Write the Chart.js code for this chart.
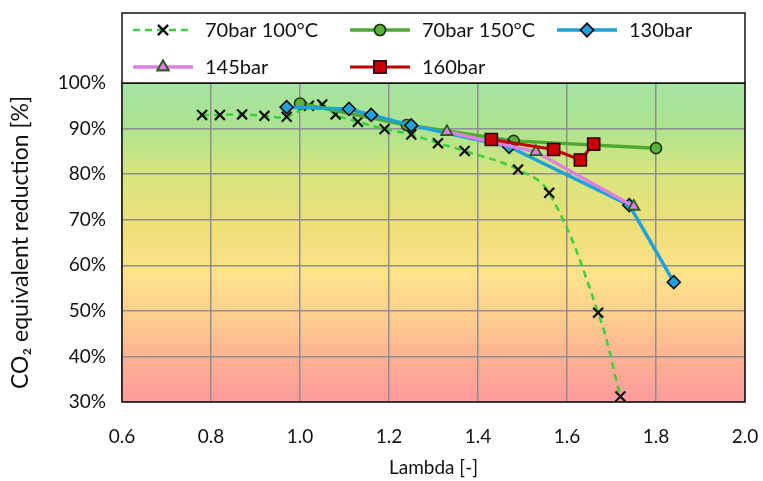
<!DOCTYPE html>
<html>
<head>
<meta charset="utf-8">
<script src="https://cdn.jsdelivr.net/npm/chart.js@4/dist/chart.umd.min.js"></script>
<style>
html,body{margin:0;padding:0;background:#fff;}
#wrap{width:763px;height:481px;}
</style>
</head>
<body>
<div id="wrap"><canvas id="c" width="763" height="481"></canvas></div>
<script>
// ---- data ----
const seriesNames = ['70bar 100°C', '70bar 150°C', '130bar', '145bar', '160bar'];

const lambda70_100 = [0.78, 0.82, 0.87, 0.92, 0.97, 1.02, 1.05, 1.08, 1.13, 1.19, 1.25, 1.31, 1.37, 1.49, 1.56, 1.67, 1.72];
const co2_70_100   = [93.0, 93.0, 93.1, 92.8, 92.6, 95.0, 95.3, 93.1, 91.5, 89.9, 88.7, 86.8, 85.1, 81.0, 75.9, 49.6, 31.2];

const lambda70_150 = [1.00, 1.24, 1.48, 1.80];
const co2_70_150   = [95.5, 90.8, 87.3, 85.7];

const lambda130 = [0.97, 1.11, 1.16, 1.25, 1.47, 1.74, 1.84];
const co2_130   = [94.7, 94.3, 93.0, 90.7, 86.0, 73.2, 56.3];

const lambda145 = [1.33, 1.53, 1.75];
const co2_145   = [89.3, 84.9, 72.9];

const lambda160 = [1.43, 1.57, 1.63, 1.66];
const co2_160   = [87.6, 85.4, 83.1, 86.6];

const xTicks = [0.6, 0.8, 1.0, 1.2, 1.4, 1.6, 1.8, 2.0];
const yTicks = [30, 40, 50, 60, 70, 80, 90, 100];

const FONT = 'Lato, "Open Sans", sans-serif';

function pts(xs, ys){ return xs.map((x,i)=>({x:x, y:ys[i]})); }

const datasets = [
  {label: seriesNames[0], data: pts(lambda70_100, co2_70_100), borderColor:'#3ccf3c', borderWidth:2.5, borderDash:[7,5],
   tension:0.4, pointStyle:'crossRot', pointRadius:7, pointBorderColor:'#111', pointBackgroundColor:'#111', pointBorderWidth:2.2, order:5},
  {label: seriesNames[1], data: pts(lambda70_150, co2_70_150), borderColor:'#4ea72e', borderWidth:3.5,
   pointStyle:'circle', pointRadius:5.5, pointBorderColor:'#1c3512', pointBackgroundColor:'#5cb33c', pointBorderWidth:1.6, order:4},
  {label: seriesNames[2], data: pts(lambda130, co2_130), borderColor:'#1ea2dc', borderWidth:3.5,
   pointStyle:'rectRot', pointRadius:6.5, pointBorderColor:'#111', pointBackgroundColor:'#1ea2dc', pointBorderWidth:1.6, order:3},
  {label: seriesNames[3], data: pts(lambda145, co2_145), borderColor:'#df80de', borderWidth:3.5,
   pointStyle:'triangle', pointRadius:6.5, pointBorderColor:'#2d5a22', pointBackgroundColor:'#df80de', pointBorderWidth:1.8, order:2},
  {label: seriesNames[4], data: pts(lambda160, co2_160), borderColor:'#c00000', borderWidth:3,
   pointStyle:'rect', pointRadius:8.5, pointBorderColor:'#2a0000', pointBackgroundColor:'#cc0000', pointBorderWidth:1.6, order:1}
];

const bgPlugin = {
  id:'bg',
  beforeDraw(chart){
    const {ctx, chartArea:a} = chart;
    ctx.save();
    ctx.fillStyle = '#fff';
    ctx.fillRect(0,0,chart.width,chart.height);
    const g = ctx.createLinearGradient(0,a.top,0,a.bottom);
    g.addColorStop(0.00,'#a5e3a3');
    g.addColorStop(0.14,'#acE38f');
    g.addColorStop(0.28,'#d6e67f');
    g.addColorStop(0.45,'#eede78');
    g.addColorStop(0.60,'#fde28b');
    g.addColorStop(0.75,'#fdcb90');
    g.addColorStop(0.88,'#fdae93');
    g.addColorStop(1.00,'#ff9a9c');
    ctx.fillStyle = g;
    ctx.fillRect(a.left,a.top,a.right-a.left,a.bottom-a.top);
    ctx.restore();
  },
  beforeDatasetsDraw(chart){
    const {ctx, chartArea:a} = chart;
    ctx.save();
    ctx.strokeStyle = '#111';
    ctx.lineWidth = 1.5;
    ctx.strokeRect(a.left,a.top,a.right-a.left,a.bottom-a.top);
    ctx.restore();
  }
};

function drawMarker(ctx, ds, x, y){
  ctx.save();
  ctx.lineWidth = ds.pointBorderWidth;
  ctx.strokeStyle = ds.pointBorderColor;
  ctx.fillStyle = ds.pointBackgroundColor;
  Chart.helpers.drawPoint(ctx, {pointStyle: ds.pointStyle, radius: ds.pointRadius, borderWidth: ds.pointBorderWidth, rotation:0}, x, y);
  ctx.fill();
  if (ds.pointBorderWidth) ctx.stroke();
  ctx.restore();
}

const legendPlugin = {
  id:'boxLegend',
  afterDraw(chart){
    const {ctx, chartArea:a} = chart;
    const top = 13;
    ctx.save();
    ctx.fillStyle = '#fff';
    ctx.fillRect(a.left, top, a.right-a.left, a.top-top);
    ctx.strokeStyle = '#111';
    ctx.lineWidth = 1.5;
    ctx.strokeRect(a.left, top, a.right-a.left, a.top-top);
    const cols = [11, 228, 435];
    const rows = [30, 67];
    const slots = [[0,0],[1,0],[2,0],[0,1],[1,1]];
    ctx.font = '20px ' + FONT;
    ctx.textBaseline = 'middle';
    ctx.textAlign = 'left';
    chart.data.datasets.forEach((ds, i) => {
      const [c, r] = slots[i];
      const x0 = a.left + cols[c], y = rows[r];
      const len = 60;
      ctx.save();
      ctx.strokeStyle = ds.borderColor;
      ctx.lineWidth = ds.borderWidth;
      ctx.setLineDash(ds.borderDash || []);
      ctx.beginPath(); ctx.moveTo(x0, y); ctx.lineTo(x0+len, y); ctx.stroke();
      ctx.restore();
      drawMarker(ctx, ds, x0+len/2, y);
      ctx.fillStyle = '#111';
      ctx.fillText(ds.label, x0 + len + 12, y+1);
    });
    ctx.restore();
  }
};

new Chart(document.getElementById('c'), {
  type:'line',
  data:{datasets},
  options:{
    responsive:false,
    animation:false,
    devicePixelRatio:1,
    layout:{padding:{top:83, right:18, left:0, bottom:0}},
    plugins:{legend:{display:false}, tooltip:{enabled:false}},
    scales:{
      x:{
        type:'linear', min:0.6, max:2.0,
        afterBuildTicks(s){ s.ticks = xTicks.map(v=>({value:v})); },
        afterFit(s){ s.height = 79; s.paddingRight = 0; s.paddingLeft = 0; },
        grid:{color:'#8e8e8e', lineWidth:1.5, drawTicks:false},
        border:{display:false},
        ticks:{padding:23, color:'#111', font:{family:FONT, size:19}, callback:(v)=>Number(v).toFixed(1)},
        title:{display:true, text:'Lambda [-]', color:'#111', font:{family:FONT, size:19}, padding:{top:0,bottom:2}}
      },
      y:{
        min:30, max:100,
        afterBuildTicks(s){ s.ticks = yTicks.map(v=>({value:v})); },
        afterFit(s){ s.width = 122; },
        grid:{color:'#8e8e8e', lineWidth:1.5, drawTicks:false},
        border:{display:false},
        ticks:{padding:16, color:'#111', font:{family:FONT, size:19}, callback:(v)=>v+'%'},
        title:{display:true, text:'CO₂ equivalent reduction [%]', color:'#111', font:{family:FONT, size:23}, padding:{top:7,bottom:0}}
      }
    }
  },
  plugins:[bgPlugin, legendPlugin]
});
</script>
</body>
</html>
